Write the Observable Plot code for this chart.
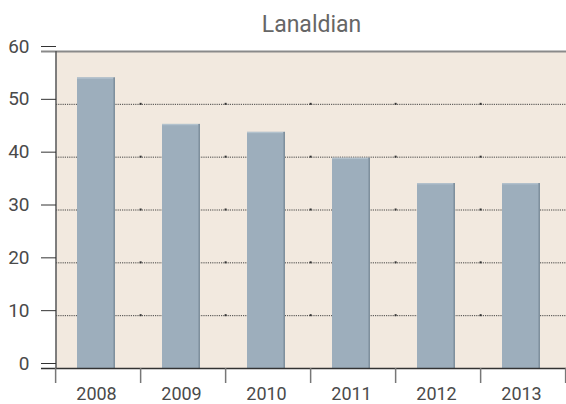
<!DOCTYPE html>
<html>
<head>
<meta charset="utf-8">
<script src="https://cdn.jsdelivr.net/npm/d3@7"></script>
<script src="https://cdn.jsdelivr.net/npm/@observablehq/plot@0.6"></script>
<style>
  html, body { margin: 0; padding: 0; background: #fff; }
  svg { display: block; }
</style>
</head>
<body>
<div id="chart"></div>
<script>
const title = "Lanaldian";
const years = ["2008", "2009", "2010", "2011", "2012", "2013"];
const values = [55, 46.2, 44.7, 39.8, 35, 35];
const yTicks = [0, 10, 20, 30, 40, 50, 60];
const gridTicks = [10, 20, 30, 40, 50];

const data = years.map((y, i) => ({year: y, value: values[i]}));

const W = 566, H = 404;
const mL = 56, mR = 0, mT = 51, mB = 36;
const pad = 0.55;
const step = (W - mL - mR) / years.length;
const bw = step * (1 - pad);

// boundary ticks & dots on band edges, drawn from the x scale
function bandEdges(index, scales, values, dims) {
  const g = d3.create("svg:g");
  const edges = years.map(y => scales.x(y) + bw / 2 - step / 2);
  edges.push(edges[edges.length - 1] + step);
  const y0 = scales.y(0);
  for (const ex of edges) {
    g.append("line").attr("x1", ex).attr("x2", ex)
      .attr("y1", y0).attr("y2", y0 + 15)
      .attr("stroke", "#777").attr("stroke-width", 1.5);
  }
  for (const t of gridTicks) {
    for (const ex of edges.slice(1, -1)) {
      g.append("rect").attr("x", ex - 1).attr("y", scales.y(t) - 1)
        .attr("width", 2).attr("height", 2).attr("fill", "#333");
    }
  }
  return g.node();
}

const chart = Plot.plot({
  width: W,
  height: H,
  marginLeft: mL,
  marginRight: mR,
  marginTop: mT,
  marginBottom: mB,
  style: {fontFamily: "Roboto, 'DejaVu Sans', sans-serif", background: "#fff"},
  x: {domain: years, paddingInner: pad, paddingOuter: pad / 2, align: 0.5, label: null},
  y: {domain: [0, 60], label: null},
  marks: [
    Plot.frame({fill: "#f2e9df", stroke: null}),
    Plot.ruleY(gridTicks, {stroke: "#333", strokeWidth: 1, strokeDasharray: "1.2,1", strokeOpacity: 0.9}),
    Plot.barY(data, {x: "year", y: "value", fill: "#9daebc", dx: -2}),
    Plot.barY(data, {x: "year", y: "value", fill: "#7f909d", dx: -2, insetLeft: bw - 1.8}),
    Plot.barY(data, {x: "year", y1: d => d.value - 0.25, y2: "value", fill: "#b3c2cd", dx: -2, insetRight: 2}),
    // top line at 60
    Plot.ruleY([60], {stroke: "#8a8a8a", strokeWidth: 2, insetLeft: -15}),
    // bottom line
    Plot.ruleY([0], {stroke: "#333", strokeWidth: 1.5, insetLeft: -15}),
    // left axis line
    Plot.ruleX([years[0]], {dx: -step / 2, y1: 0, y2: 60, stroke: "#555", strokeWidth: 1.5}),
    Plot.axisY(yTicks, {
      tickSize: 15, tickPadding: 12, stroke: "#333", fontSize: 19, fill: "#4a4a4a",
      dy: -5, textAnchor: "end"
    }),
    Plot.axisX(years, {tickSize: 0, tickPadding: 19, fontSize: 18, fill: "#4a4a4a", dx: -2}),
    bandEdges,
    Plot.text([title], {frameAnchor: "top", dy: -36, fontSize: 23, fill: "#666", fontWeight: 400})
  ]
});

document.getElementById("chart").appendChild(chart);
</script>
</body>
</html>
